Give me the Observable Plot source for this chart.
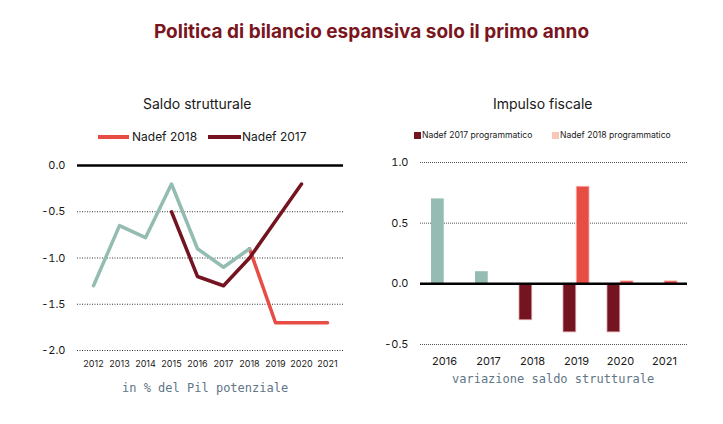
<!DOCTYPE html>
<html>
<head>
<meta charset="utf-8">
<script src="https://cdn.jsdelivr.net/npm/d3@7"></script>
<script src="https://cdn.jsdelivr.net/npm/@observablehq/plot@0.6"></script>
<style>
  html, body { margin: 0; padding: 0; background: #fff; }
  body { width: 723px; height: 424px; position: relative; overflow: hidden; font-family: Inter, "Noto Sans", sans-serif; color: #1a1a1a; }
  .abs { position: absolute; white-space: nowrap; }
  #title { left: 0; width: 743px; top: 20px; text-align: center; font-size: 19px; font-weight: 700; color: #7a1520; }
  .sub { font-size: 14px; color: #1a1a1a; }
  .cap { font-family: "DejaVu Sans Mono", monospace; font-size: 12px; color: #5f7686; }
  .leg { font-size: 12px; display: flex; align-items: center; }
  .legs { font-size: 8.6px; display: flex; align-items: center; }
  #left, #right { position: absolute; }
  #left svg g[aria-label^="x-axis"] { font-size: 9px; }
  #right svg g[aria-label^="x-axis"] { font-size: 11px; }
</style>
</head>
<body>
<div id="title" class="abs">Politica di bilancio espansiva solo il primo anno</div>

<div class="abs sub" style="left:143px; top:95px;">Saldo strutturale</div>
<div class="abs leg" style="left:98px; top:129px;"><span style="display:inline-block;width:31px;height:4px;background:#e84d45;margin-right:3px"></span>Nadef 2018</div>
<div class="abs leg" style="left:208px; top:129px;"><span style="display:inline-block;width:33px;height:4px;background:#741420;margin-right:1px"></span>Nadef 2017</div>
<div id="left" style="left:0; top:155px;"></div>
<div class="abs cap" style="left:122px; top:381px;">in % del Pil potenziale</div>

<div class="abs sub" style="left:493px; top:95px;">Impulso fiscale</div>
<div class="abs legs" style="left:414px; top:130px;"><span style="display:inline-block;width:7px;height:7px;background:#741420;margin-right:1px"></span>Nadef 2017 programmatico</div>
<div class="abs legs" style="left:552px; top:130px;"><span style="display:inline-block;width:7px;height:7px;background:#f7c8b6;margin-right:1px"></span>Nadef 2018 programmatico</div>
<div id="right" style="left:360px; top:152px;"></div>
<div class="abs cap" style="left:452px; top:372px;">variazione saldo strutturale</div>

<script>
// ---- Data: Saldo strutturale ----
const years = ["2012","2013","2014","2015","2016","2017","2018","2019","2020","2021"];
const histYears = ["2012","2013","2014","2015","2016","2017","2018"];
const histVals  = [-1.3, -0.65, -0.78, -0.2, -0.9, -1.1, -0.9];
const n17Years  = ["2015","2016","2017","2018","2019","2020"];
const n17Vals   = [-0.5, -1.2, -1.3, -1.0, -0.6, -0.2];
const n18Years  = ["2018","2019","2020","2021"];
const n18Vals   = [-0.9, -1.7, -1.7, -1.7];
const leftTicks = [0, -0.5, -1, -1.5, -2];

// ---- Data: Impulso fiscale ----
const impYears = ["2016","2017","2018","2019","2020","2021"];
const consYears = ["2016","2017"];
const consVals  = [0.7, 0.1];
const p17Years  = ["2018","2019","2020"];
const p17Vals   = [-0.3, -0.4, -0.4];
const p18Years  = ["2019","2020","2021"];
const p18Vals   = [0.8, 0.02, 0.02];
const rightTicks = [1, 0.5, 0, -0.5];

const GREY = "#95bcb2", RED = "#e84d45", DARK = "#741420";
const fmt = d => d.toFixed(1);
const toRows = (xs, vs) => xs.map((x, i) => ({x, v: vs[i]}));

const left = Plot.plot({
  width: 360, height: 220,
  marginLeft: 77, marginRight: 17, marginTop: 10, marginBottom: 25,
  style: {fontFamily: "Inter, sans-serif", fontSize: "11px", color: "#1a1a1a", background: "transparent"},
  x: {type: "point", domain: years, padding: 0.53, tickSize: 0, tickPadding: 10, label: null},
  y: {domain: [-2, 0], ticks: leftTicks, tickFormat: fmt, tickSize: 0, tickPadding: 12, label: null},
  marks: [
    Plot.ruleY(leftTicks.filter(d => d !== 0), {stroke: "#333", strokeWidth: 1, strokeDasharray: "1,1.5"}),
    Plot.ruleY([0], {stroke: "#000", strokeWidth: 2.5}),
    Plot.line(toRows(n18Years, n18Vals), {x: "x", y: "v", stroke: RED, strokeWidth: 3.5}),
    Plot.line(toRows(histYears, histVals), {x: "x", y: "v", stroke: GREY, strokeWidth: 3.5}),
    Plot.line(toRows(n17Years, n17Vals), {x: "x", y: "v", stroke: DARK, strokeWidth: 3.5})
  ]
});
document.getElementById("left").appendChild(left);

const right = Plot.plot({
  width: 340, height: 222,
  marginLeft: 60, marginRight: 13, marginTop: 10, marginBottom: 30,
  style: {fontFamily: "Inter, sans-serif", fontSize: "11px", color: "#1a1a1a", background: "transparent"},
  x: {type: "band", domain: impYears, padding: 0, tickSize: 0, tickPadding: 13, label: null},
  y: {domain: [-0.5, 1], ticks: rightTicks, tickFormat: fmt, tickSize: 0, tickPadding: 12, label: null},
  marks: [
    Plot.ruleY(rightTicks.filter(d => d !== 0), {stroke: "#555", strokeWidth: 1, strokeDasharray: "1,1"}),
    Plot.barY(toRows(consYears, consVals), {x: "x", y: "v", fill: GREY, insetLeft: 9, insetRight: 22.25}),
    Plot.barY(toRows(p17Years, p17Vals), {x: "x", y: "v", fill: DARK, stroke: "#d9a0a6", strokeWidth: 0.8, insetLeft: 9, insetRight: 22.25}),
    Plot.barY(toRows(p18Years, p18Vals), {x: "x", y: "v", fill: RED, stroke: "#f6b0ac", strokeWidth: 0.8, insetLeft: 22.25, insetRight: 9}),
    Plot.ruleY([0], {stroke: "#000", strokeWidth: 2.5})
  ]
});
document.getElementById("right").appendChild(right);
</script>
</body>
</html>
